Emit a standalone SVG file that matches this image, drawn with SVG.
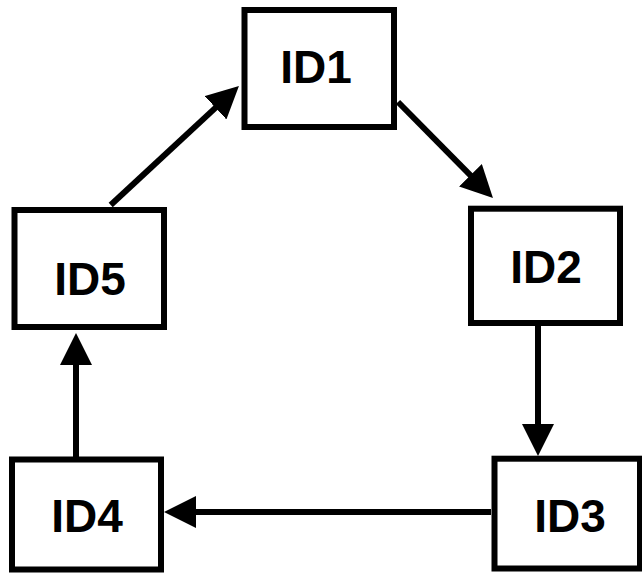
<svg xmlns="http://www.w3.org/2000/svg" width="642" height="574" viewBox="0 0 642 574">
<style>
.box{fill:#fff;stroke:#000;stroke-width:6}
.lbl{font-family:"Liberation Sans",Arial,sans-serif;font-weight:bold;font-size:46px;text-anchor:middle;fill:#000}
.edge{stroke:#000;stroke-width:6;fill:none;marker-end:url(#ah)}
</style>
<defs>
<marker id="ah" markerUnits="userSpaceOnUse" viewBox="0 0 32 32" refX="12" refY="16" markerWidth="32" markerHeight="32" orient="auto">
<path d="M0,0 L32,16 L0,32 z" fill="#000"/>
</marker>
</defs>
<g id="connectors">
<line class="edge" x1="398" y1="102" x2="478.9" y2="183.8"/>
<line class="edge" x1="538" y1="326" x2="538" y2="436"/>
<line class="edge" x1="491" y1="512" x2="184" y2="512"/>
<line class="edge" x1="76" y1="457" x2="76" y2="353"/>
<line class="edge" x1="110.7" y1="205" x2="224.3" y2="99.6"/>
</g>
<g id="ID1"><rect class="box" x="244.5" y="10" width="149.5" height="117"/><text class="lbl" x="316" y="83">ID1</text></g>
<g id="ID2"><rect class="box" x="471" y="208.7" width="149" height="114.3"/><text class="lbl" x="546" y="282.7">ID2</text></g>
<g id="ID3"><rect class="box" x="494.5" y="458.7" width="145.5" height="109.8"/><text class="lbl" x="570" y="532.3">ID3</text></g>
<g id="ID4"><rect class="box" x="12" y="459.5" width="149" height="110"/><text class="lbl" x="87" y="531.7">ID4</text></g>
<g id="ID5"><rect class="box" x="14.5" y="210" width="149.5" height="117"/><text class="lbl" x="90" y="295">ID5</text></g>
</svg>
